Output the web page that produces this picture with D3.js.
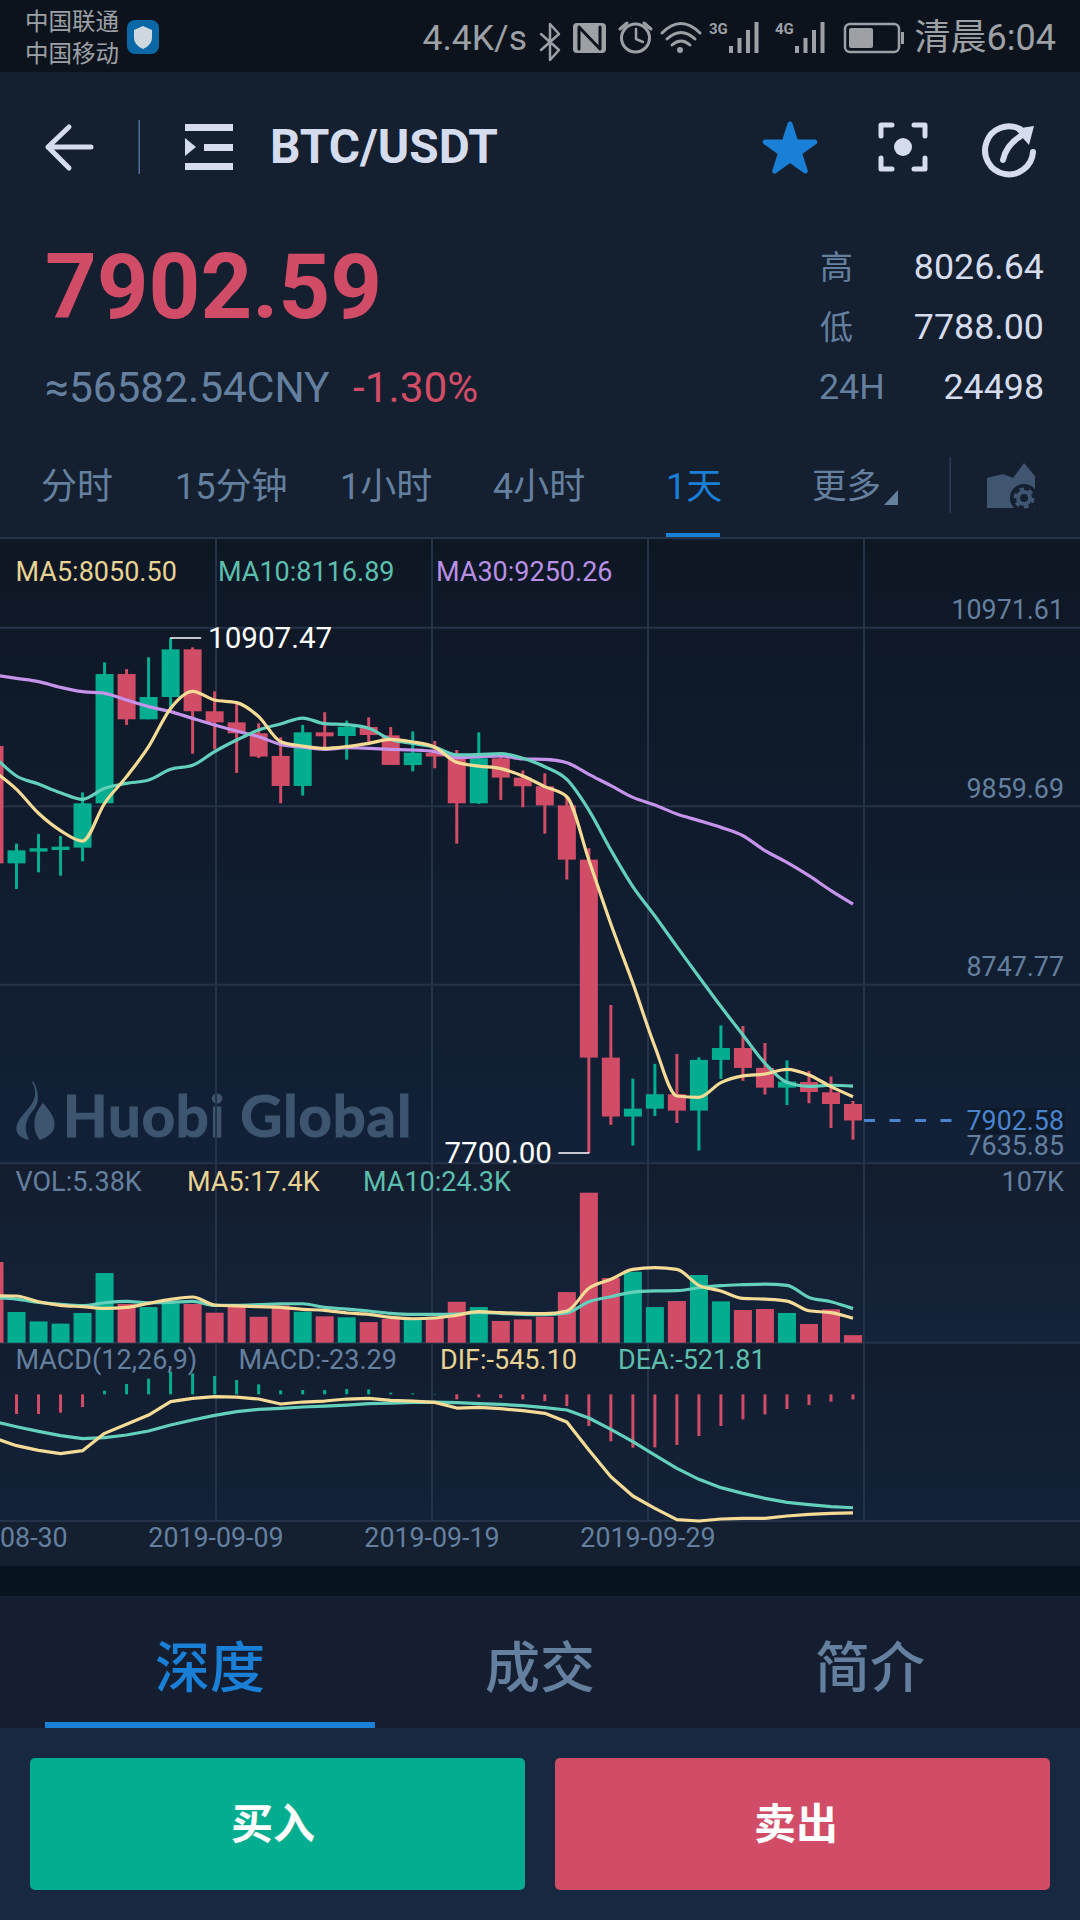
<!DOCTYPE html>
<html>
<head>
<meta charset="utf-8">
<script src="https://cdn.jsdelivr.net/npm/d3@7"></script>
<style>
  html, body { margin: 0; padding: 0; background: #141f30; }
  svg { display: block; }
  text { font-family: Roboto, "Noto Sans CJK SC", sans-serif; }
</style>
</head>
<body>
<svg id="chart" width="1080" height="1920"></svg>
<script>
// daily candles, one entry per date
const dates = [
  '2019-08-30','2019-08-31','2019-09-01','2019-09-02','2019-09-03','2019-09-04','2019-09-05','2019-09-06',
  '2019-09-07','2019-09-08','2019-09-09','2019-09-10','2019-09-11','2019-09-12','2019-09-13','2019-09-14',
  '2019-09-15','2019-09-16','2019-09-17','2019-09-18','2019-09-19','2019-09-20','2019-09-21','2019-09-22',
  '2019-09-23','2019-09-24','2019-09-25','2019-09-26','2019-09-27','2019-09-28','2019-09-29','2019-09-30',
  '2019-10-01','2019-10-02','2019-10-03','2019-10-04','2019-10-05','2019-10-06','2019-10-07','2019-10-08'
];
const opens = [10235,9504,9577,9587,9602,9878,10683,10401,10540,10837,10451,10382,10314,10173,9986,10320,10297,10353,10301,10116,10193,10160,9878,10158,10038,9984,9865,9527,8294,7927,7976,8066,7964,8280,8354,8230,8107,8142,8078,8005];
const closes = [9504,9585,9598,9608,9878,10683,10401,10540,10837,10451,10382,10314,10169,9986,10320,10295,10355,10303,10117,10193,10169,9878,10158,10038,9984,9865,9527,8294,7927,7976,8066,7964,8280,8354,8230,8107,8145,8080,8005,7902.58];
const highs = [10235,9627,9687,9674,9946,10756,10714,10787,10907.47,10849,10575,10501,10376,10289,10366,10445,10393,10413,10353,10326,10266,10210,10320,10189,10083,10065,9919,9598,8622,8163,8255,8317,8296,8495,8491,8385,8277,8211,8176,8024];
const lows = [9504,9344,9448,9427,9517,9878,10366,10401,10469,10187,10214,10067,10160,9878,9926,10227,10150,10252,10117,10077,10096,9627,9874,9899,9853,9689,9403,7700,7875,7746,7931,7887,7715,8161,8149,8064,7999,8010,7856,7783];

const ma5 = [10075,9965,9816,9708,9643,9878,10044,10231,10469,10575,10521,10505,10418,10262,10235,10220,10231,10251,10276,10260,10227,10133,10110,10094,10048,9982,9919,9525,9126,8757,8363,8055,8047,8138,8180,8192,8221,8186,8113,8050.5];
const ma10 = [10168,10048,9998,9944,9903,9971,10002,10023,10090,10115,10200,10272,10335,10372,10409,10374,10368,10345,10276,10251,10227,10179,10181,10187,10158,10106,10027,9836,9587,9359,9176,8985,8798,8612,8435,8259,8140,8115,8122,8116.89];
const ma30 = [10677,10656,10636,10600,10573,10563,10521,10480,10449,10407,10366,10328,10293,10245,10227,10214,10224,10220,10214,10210,10200,10162,10168,10173,10154,10152,10131,10058,9988,9915,9867,9811,9770,9728,9676,9583,9510,9427,9334,9250.26];

// volume in thousands
const volumes = [57.5,21.9,15.2,13.6,21.2,49.7,27.6,25.4,28.1,27.6,21.4,27.6,18.5,26.6,22.1,18.8,18.1,14.7,16.9,17.4,18.5,29.2,25.4,15.5,16.6,18.5,36.1,107,46.1,50.6,25.4,29.7,48.3,29.5,23.3,24,21.2,13.3,23.8,5.38];
const volMa5 = [33.5,33.3,29.2,26.6,25.7,24.5,25.2,28.1,30.9,32.6,26.9,26.2,25.7,25.2,23.8,23.1,21.2,20.2,18.1,17.1,17.6,19.7,22.1,21.4,20.9,20.7,22.6,38.8,45.2,52.3,53.5,52.3,40.9,36.9,31.6,31.1,29.7,22.8,21.4,17.4];
const volMa10 = [32.1,31.1,28.8,27.3,26.4,28.5,29.5,28.5,28.8,29.5,26.6,26.6,27.1,27.8,27.8,25.2,24,22.6,20.9,20.2,20.2,20.4,21.6,20.9,20.2,20,21.2,29.2,32.8,36.1,36.9,37.1,39.2,40.7,41.4,41.8,40.9,32.3,29.2,24.3];

const macd = [-90,-90.5,-90.5,-84.4,-58.3,16.9,47.5,72.1,104.3,96.6,84.4,66,46,18.4,19.9,19.9,24.5,23,7.7,4.6,1.5,-23,-13.8,-16.9,-23,-30.7,-53.7,-145.7,-216.3,-245.4,-243.9,-233.1,-191.7,-145.7,-115,-92,-67.5,-49.1,-33.7,-23.29];
const dif = [-201,-236.2,-257.7,-273,-259.2,-179.5,-138,-95.1,-33.7,-18.4,-10.7,-12.3,-21.5,-44.5,-35.3,-30.7,-21.5,-18.4,-27.6,-30.7,-36.8,-62.9,-59.8,-66,-75.2,-87.4,-127.3,-256.2,-378.9,-467.9,-524.6,-576.8,-582.9,-573.7,-570.6,-570.6,-559.9,-552.2,-547.6,-545.1];
const dea = [-125.8,-148.8,-170.3,-190.2,-204,-199.4,-187.1,-168.7,-141.1,-118.1,-96.6,-79.8,-69,-64.4,-58.3,-53.7,-49.1,-43,-39.9,-36.8,-35.3,-38.4,-43,-46,-52.2,-61.4,-72.1,-108.9,-161.1,-217.8,-279.2,-340.5,-391.2,-429.5,-455.6,-478.6,-497,-507.8,-517,-521.81];

// tick labels
const priceTicks = [10971.61, 9859.69, 8747.77, 7635.85];
const dateTicks = ['2019-08-30', '2019-09-09', '2019-09-19', '2019-09-29'];
const intervals = ['分时', '15分钟', '1小时', '4小时', '1天'];
const lastPrice = 7902.58;

const GREEN = '#03ad8f', RED = '#d14c66', BLUE = '#1a7fd6', GRID = '#243347';
const MUTED = '#65809f', LIGHT = '#d5dcee', YELLOW = '#f5db96', TEAL = '#63d0bc', PURPLE = '#c594ea';
const STATUS = '#9da1a6';
const SMALL = 27;

const svg = d3.select('#chart');
const defs = svg.append('defs');

function panelGradient(id, top, bottom) {
  const g = defs.append('linearGradient').attr('id', id).attr('x1', 0).attr('x2', 0).attr('y1', 0).attr('y2', 1);
  g.append('stop').attr('offset', 0).attr('stop-color', top);
  g.append('stop').attr('offset', 1).attr('stop-color', bottom);
}
panelGradient('mainBg', '#0e1724', '#122138');
panelGradient('volBg', '#131d2e', '#14233a');
panelGradient('macdBg', '#121d2e', '#132239');

function box(x, y, w, h, fill, rx) {
  return svg.append('rect').attr('x', x).attr('y', y).attr('width', w).attr('height', h)
    .attr('fill', fill).attr('rx', rx || 0);
}
function label(str, x, y, size, fill, anchor, weight) {
  return svg.append('text').attr('x', x).attr('y', y).attr('font-size', size).attr('fill', fill)
    .attr('text-anchor', anchor || 'start').attr('font-weight', weight || 400).text(str);
}
function shape(d, fill, stroke, sw) {
  return svg.append('path').attr('d', d).attr('fill', fill || 'none')
    .attr('stroke', stroke || 'none').attr('stroke-width', sw || 0)
    .attr('stroke-linecap', 'round').attr('stroke-linejoin', 'round');
}

// page blocks
box(0, 0, 1080, 72, '#0c131c');
box(0, 72, 1080, 466, '#141f30');
box(0, 538, 1080, 625, 'url(#mainBg)');
box(0, 1163, 1080, 180, 'url(#volBg)');
box(0, 1343, 1080, 178, 'url(#macdBg)');
box(0, 1521, 1080, 45, '#141f30');
box(0, 1566, 1080, 30, '#07141f');
box(0, 1596, 1080, 132, '#141e30');
box(0, 1728, 1080, 192, '#182840');

// status bar
label('中国联通', 25, 30, 23.5, STATUS);
label('中国移动', 25, 62, 23.5, STATUS);
box(127, 20, 32, 34, '#0a68a6', 8);
shape('M143 26 L152 30 V38 Q152 45 143 49 Q134 45 134 38 V30 Z', '#cfd8de');
label('4.4K/s', 527, 50, 35.5, STATUS, 'end');
shape('M541 34 L559 50 L550 60 V24 L559 34 L541 50', 'none', STATUS, 2.5);
box(573, 23, 33, 30, STATUS, 4);
shape('M579 49 V27 L600 49 V27', 'none', '#0c131c', 3);
shape('M620 29 L627 23 M651 29 L644 23', 'none', STATUS, 3);
svg.append('circle').attr('cx', 635.5).attr('cy', 38).attr('r', 14).attr('fill', 'none').attr('stroke', STATUS).attr('stroke-width', 3);
shape('M636 29 V39 L643 42', 'none', STATUS, 2.5);
shape('M662 33 Q681 14 700 33 M667 39 Q681 26 695 39 M672 45 Q681 37 690 45', 'none', STATUS, 3);
svg.append('circle').attr('cx', 680).attr('cy', 50).attr('r', 3).attr('fill', STATUS);
label('3G', 709, 34, 15, STATUS, 'start', 700);
label('4G', 775, 34, 15, STATUS, 'start', 700);
[729, 795].forEach(x0 => {
  d3.range(4).forEach(k => box(x0 + k * 8.5, 46 - k * 8, 4, 7 + k * 8, STATUS));
});
box(845, 24, 54, 28, 'none', 5).attr('stroke', STATUS).attr('stroke-width', 2.5);
box(849, 28, 24, 20, STATUS, 2);
box(901, 32, 3, 12, STATUS);
label('清晨6:04', 1056, 50, 36, STATUS, 'end');

// nav bar
shape('M91 147 H48 M69 127 L48 147 L69 168', 'none', LIGHT, 5);
box(138.5, 120, 1.5, 54, '#4f6f96');
box(185, 124, 48, 7, LIGHT);
box(204, 144, 29, 7, LIGHT);
box(185, 163, 48, 7, LIGHT);
shape('M185 138 L196 147 L185 156 Z', LIGHT);
label('BTC/USDT', 270, 163, 47.8, LIGHT, 'start', 700);
svg.append('path').attr('d', d3.symbol().type(d3.symbolStar).size(760)()).attr('fill', BLUE)
  .attr('stroke', BLUE).attr('stroke-width', 5).attr('stroke-linejoin', 'round').attr('transform', 'translate(790,150)');
shape('M881 136 V125 H892 M914 125 H925 V136 M925 158 V169 H914 M892 169 H881 V158', 'none', LIGHT, 5);
svg.append('circle').attr('cx', 903).attr('cy', 147).attr('r', 9).attr('fill', LIGHT);
shape('M1020 129 A24 24 0 1 0 1033 152', 'none', LIGHT, 6);
shape('M1003 160 Q1006 145 1021 136', 'none', LIGHT, 6);
shape('M1015 129 L1034 126 L1029 145 Z', LIGHT);

// quote block
label('7902.59', 45, 318, 90.3, RED, 'start', 700);
label('≈56582.54CNY', 45, 402, 42.4, MUTED);
label('-1.30%', 353, 402, 42.4, RED);
label('高', 820, 279, 33, MUTED);
label('8026.64', 1044, 279, 35.8, LIGHT, 'end');
label('低', 820, 339, 33, MUTED);
label('7788.00', 1044, 339, 35.8, LIGHT, 'end');
label('24H', 819, 399, 35.8, MUTED);
label('24498', 1044, 399, 35.8, LIGHT, 'end');

// interval tabs
const intervalX = [41, 175, 340, 493, 666];
intervals.forEach((t, i) => label(t, intervalX[i], 499, 36, t === '1天' ? BLUE : MUTED));
label('更多', 812, 498, 34.5, MUTED);
shape('M898 490 V505 H884 Z', MUTED);
box(949.5, 457, 1.5, 56, '#2c3d54');
shape('M987 508 V478 L1003 474 L1013 478 L1024 463 L1035 476 V508 Z', '#3f5570');
svg.append('circle').attr('cx', 1024).attr('cy', 498).attr('r', 14).attr('fill', '#141f30');
svg.append('circle').attr('cx', 1024).attr('cy', 498).attr('r', 6).attr('fill', 'none').attr('stroke', '#3f5570').attr('stroke-width', 4);
svg.append('circle').attr('cx', 1024).attr('cy', 498).attr('r', 9).attr('fill', 'none').attr('stroke', '#3f5570').attr('stroke-width', 3).attr('stroke-dasharray', '4.7 4.7');
box(666, 533, 54, 5, BLUE);

// scales
const x = d3.scalePoint().domain(dates).range([-5.5, 853]);
const gridX = d3.scaleLinear().domain([0, 5]).range([0, 1080]);
const yPrice = d3.scaleLinear().domain([7635.85, 10971.61]).range([1163.3, 627.7]);
const yVol = d3.scaleLinear().domain([0, 107]).range([1342.7, 1192.7]);
const yMacd = d3.scaleLinear().domain([-582.9, 104.3]).range([1521, 1371.7]);
const bodyW = x.step() * 18 / 22;

// watermark sits under the grid
label('Huobi Global', 63, 1137, 58, '#3e5570', 'start', 700).attr('style', 'font-family: Lato')
  .attr('letter-spacing', 0.9).attr('stroke', '#3e5570').attr('stroke-width', 1.2);
shape('M33 1082 C41 1098 31 1106 23 1116 C14 1126 15 1136 28 1139 C22 1128 25 1118 34 1108 C39 1100 38 1092 33 1082 Z', '#3e5570', '#3e5570', 1.5);
shape('M43 1104 C50 1112 56 1120 53 1129 C51 1134 46 1137 40 1139 C33 1130 33 1116 43 1104 Z', '#3e5570', '#3e5570', 1.5);

// grid
const gridLayer = svg.append('g').attr('stroke', GRID).attr('stroke-width', 2);
gridLayer.selectAll('line.v').data(d3.range(1, 5)).enter().append('line').attr('class', 'v')
  .attr('x1', d => gridX(d)).attr('x2', d => gridX(d)).attr('y1', 538).attr('y2', 1521);
gridLayer.selectAll('line.h').data(priceTicks).enter().append('line').attr('class', 'h')
  .attr('x1', 0).attr('x2', 1080).attr('y1', d => yPrice(d)).attr('y2', d => yPrice(d));
[538, yVol(0), yMacd(-582.9)].forEach(y => {
  gridLayer.append('line').attr('x1', 0).attr('x2', 1080).attr('y1', y).attr('y2', y);
});

const colorAt = i => closes[i] >= opens[i] ? GREEN : RED;

// candles
const candles = svg.append('g').selectAll('g').data(dates).enter().append('g')
  .attr('fill', (d, i) => colorAt(i));
candles.append('rect').attr('x', d => x(d) - 1.5).attr('width', 3)
  .attr('y', (d, i) => yPrice(highs[i]))
  .attr('height', (d, i) => yPrice(lows[i]) - yPrice(highs[i]));
candles.append('rect').attr('x', d => x(d) - bodyW / 2).attr('width', bodyW)
  .attr('y', (d, i) => yPrice(Math.max(opens[i], closes[i])))
  .attr('height', (d, i) => Math.max(2, Math.abs(yPrice(opens[i]) - yPrice(closes[i]))));

function drawLine(values, yScale, color, curve) {
  const gen = d3.line().x((d, i) => x(dates[i])).y(d => yScale(d)).curve(curve);
  svg.append('path').datum(values).attr('d', gen).attr('fill', 'none')
    .attr('stroke', color).attr('stroke-width', 3.2).attr('stroke-linejoin', 'round');
}
drawLine(ma30, yPrice, PURPLE, d3.curveMonotoneX);
drawLine(ma10, yPrice, TEAL, d3.curveMonotoneX);
drawLine(ma5, yPrice, YELLOW, d3.curveMonotoneX);

// high / low markers
shape(`M${x(dates[8])} ${yPrice(10907.47)} H${x(dates[8]) + 30}`, 'none', '#fff', 1.5);
label('10907.47', 208, 648, 29.6, '#fff');
shape(`M${x(dates[27])} ${yPrice(7700)} H${x(dates[27]) - 30}`, 'none', '#fff', 1.5);
label('7700.00', 552, 1163, 29.6, '#fff', 'end');

// price labels
priceTicks.forEach(p => label(d3.format('.2f')(p), 1064, yPrice(p) - 8.4, 26.8, MUTED, 'end'));
shape(`M${gridX(4)} ${yPrice(lastPrice)} H963`, 'none', '#4a84cf', 3).attr('stroke-dasharray', '11 14.5').attr('stroke-linecap', 'butt');
box(970, 1108, 95, 26, '#0c1a2a');
label(d3.format('.2f')(lastPrice), 1064, 1130, 26.8, '#4a84cf', 'end');

// MA legend
label('MA5:8050.50', 15.5, 581, SMALL, '#e8d394');
label('MA10:8116.89', 218, 581, SMALL, '#5cbfae');
label('MA30:9250.26', 436, 581, SMALL, '#b98fe6');

// volume panel
svg.append('g').selectAll('rect').data(dates).enter().append('rect')
  .attr('x', d => x(d) - bodyW / 2).attr('width', bodyW)
  .attr('y', (d, i) => yVol(volumes[i]))
  .attr('height', (d, i) => yVol(0) - yVol(volumes[i]))
  .attr('fill', (d, i) => colorAt(i));
drawLine(volMa10, yVol, TEAL, d3.curveMonotoneX);
drawLine(volMa5, yVol, YELLOW, d3.curveMonotoneX);
label('VOL:5.38K', 15.5, 1191, SMALL, MUTED);
label('MA5:17.4K', 187, 1191, SMALL, '#e8d394');
label('MA10:24.3K', 363, 1191, SMALL, '#5cbfae');
label('107K', 1064, 1191, SMALL, MUTED, 'end');

// MACD panel
svg.append('g').selectAll('rect').data(dates).enter().append('rect')
  .attr('x', d => x(d) - 1.5).attr('width', 3)
  .attr('y', (d, i) => yMacd(Math.max(macd[i], 0)))
  .attr('height', (d, i) => Math.abs(yMacd(macd[i]) - yMacd(0)))
  .attr('fill', (d, i) => macd[i] >= 0 ? GREEN : RED);
drawLine(dea, yMacd, TEAL, d3.curveLinear);
drawLine(dif, yMacd, YELLOW, d3.curveLinear);
label('MACD(12,26,9)', 15.5, 1369, SMALL, MUTED);
label('MACD:-23.29', 238.5, 1369, SMALL, MUTED);
label('DIF:-545.10', 440, 1369, SMALL, '#e8d394');
label('DEA:-521.81', 618, 1369, SMALL, '#5cbfae');

// date axis
dateTicks.forEach((t, i) => label(t, gridX(i), 1547, 26.8, MUTED, 'middle'));

// bottom tabs
label('深度', 210, 1687, 55, BLUE, 'middle', 500);
label('成交', 540, 1687, 55, MUTED, 'middle', 500);
label('简介', 870, 1687, 55, MUTED, 'middle', 500);
box(45, 1722, 330, 6, BLUE);

// buy / sell buttons
box(30, 1758, 495, 132, GREEN, 5);
box(555, 1758, 495, 132, RED, 5);
label('买入', 273, 1839, 42, '#fff', 'middle', 700);
label('卖出', 796, 1839, 42, '#fff', 'middle', 700);
</script>
</body>
</html>
